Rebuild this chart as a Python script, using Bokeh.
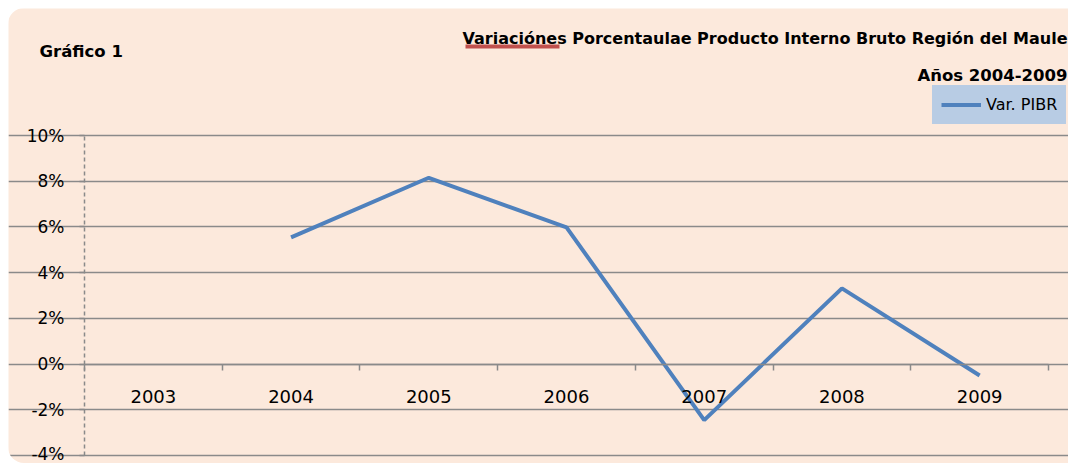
from bokeh.plotting import figure
from bokeh.models import (Range1d, FixedTicker, NumeralTickFormatter, Label,
                          Legend, LegendItem, BoxAnnotation)
from bokeh.embed import file_html
from bokeh.resources import INLINE

# ---- data ----
years = ["2003", "2004", "2005", "2006", "2007", "2008", "2009"]
var_pibr = [float("nan"), 5.54, 8.15, 5.98, -2.45, 3.31, -0.50]  # percent
y_ticks = [-4, -2, 0, 2, 4, 6, 8, 10]

title_text = "Variaciónes Porcentaulae Producto Interno Bruto Región del Maule"
subtitle_text = "Años 2004-2009"
corner_text = "Gráfico 1"
series_name = "Var. PIBR"

# ---- style / layout ----
BG = "#FCE9DC"
GRID = "#8A8A8A"
LINE = "#4F81BD"
LEG_BG = "#B8CCE4"
FONT = "DejaVu Sans"
W, H = 1060, 455
AX_LEFT, AX_RIGHT, AX_TOP, AX_BOTTOM = 76, 1040, 127, 447   # canvas px of the plotting area
YMIN, YMAX = -0.04, 0.10

px_per_x = (AX_RIGHT - AX_LEFT) / len(years)
px_per_y = (AX_BOTTOM - AX_TOP) / (YMAX - YMIN)
x_range = Range1d(-AX_LEFT / px_per_x, len(years) + (W - AX_RIGHT) / px_per_x)
y_range = Range1d(YMIN - (H - AX_BOTTOM) / px_per_y, YMAX + AX_TOP / px_per_y)

xs = [i + 0.5 for i in range(len(years))]
ys = [v / 100 for v in var_pibr]
yt = [t / 100 for t in y_ticks]

p = figure(width=W, height=H, output_backend="svg", toolbar_location=None,
           x_range=x_range, y_range=y_range,
           min_border_left=0, min_border_right=0, min_border_top=0, min_border_bottom=0)
p.styles = {"margin-left": "8px", "margin-top": "8px",
            "border-radius": "16px 0 0 16px", "overflow": "hidden"}
p.background_fill_color = BG
p.border_fill_color = BG
p.outline_line_color = None

# y axis (at x = 0)
p.yaxis.fixed_location = 0
p.yaxis.bounds = (YMIN, YMAX)
p.yaxis.ticker = FixedTicker(ticks=yt)
p.yaxis.formatter = NumeralTickFormatter(format="0%")
p.yaxis.axis_line_color = GRID
p.yaxis.axis_line_dash = "4 3"
p.yaxis.axis_line_width = 1.5
p.yaxis.major_tick_line_color = GRID
p.yaxis.major_tick_line_width = 1.5
p.yaxis.major_tick_out = 5
p.yaxis.major_tick_in = 0
p.yaxis.minor_tick_line_color = None
p.yaxis.major_label_text_font = FONT
p.yaxis.major_label_text_font_size = "17px"
p.yaxis.major_label_text_color = "#000000"
p.yaxis.major_label_standoff = 15

# x axis (at y = 0)
p.xaxis.fixed_location = 0
p.xaxis.bounds = (0, len(years))
p.xaxis.ticker = FixedTicker(ticks=xs, minor_ticks=list(range(len(years) + 1)))
p.xaxis.major_label_overrides = {x: y for x, y in zip(xs, years)}
p.xaxis.axis_line_color = GRID
p.xaxis.axis_line_width = 1.5
p.xaxis.major_tick_out = 0
p.xaxis.major_tick_in = 0
p.xaxis.minor_tick_out = 6
p.xaxis.minor_tick_in = 0
p.xaxis.minor_tick_line_color = GRID
p.xaxis.minor_tick_line_width = 1.5
p.xaxis.major_label_text_font = FONT
p.xaxis.major_label_text_font_size = "18px"
p.xaxis.major_label_text_color = "#000000"
p.xaxis.major_label_standoff = 20

p.xgrid.grid_line_color = None
p.ygrid.ticker = FixedTicker(ticks=yt)
p.ygrid.bounds = (0, len(years))
p.ygrid.grid_line_color = GRID
p.ygrid.grid_line_width = 1.5

r = p.line(xs, ys, line_color=LINE, line_width=4)

legend = Legend(items=[LegendItem(label=series_name, renderers=[r])],
                location=(924, 339), background_fill_color=LEG_BG,
                background_fill_alpha=1, border_line_color=LEG_BG, border_line_width=1,
                label_text_font=FONT, label_text_font_size="16px",
                label_text_color="#000000",
                glyph_width=40, glyph_height=21, padding=8, margin=0,
                label_standoff=5, spacing=0)
p.add_layout(legend)

p.add_layout(Label(x=1059, y=425, x_units="screen", y_units="screen", text=title_text,
                   text_align="right", text_baseline="alphabetic", text_font=FONT,
                   text_font_size="16px", text_font_style="bold", text_color="#000000"))
p.add_layout(Label(x=1059, y=388, x_units="screen", y_units="screen", text=subtitle_text,
                   text_align="right", text_baseline="alphabetic", text_font=FONT,
                   text_font_size="16.5px", text_font_style="bold", text_color="#000000"))
p.add_layout(Label(x=31, y=412, x_units="screen", y_units="screen", text=corner_text,
                   text_align="left", text_baseline="alphabetic", text_font=FONT,
                   text_font_size="16.5px", text_font_style="bold", text_color="#000000"))
p.add_layout(BoxAnnotation(left=457, right=551, bottom=415, top=419,
                           left_units="screen", right_units="screen",
                           bottom_units="screen", top_units="screen",
                           fill_color="#C0504D", fill_alpha=1, line_color=None))

open("out.html", "w").write(file_html(p, INLINE))
